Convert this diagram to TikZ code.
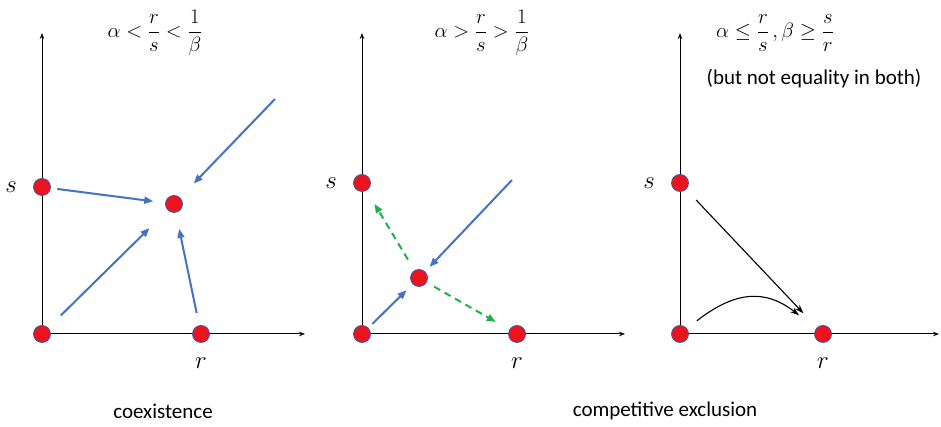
\documentclass[tikz,border=0pt]{standalone}
\usepackage{amsmath,amssymb}
\usepackage{fontspec}
\setmainfont{Carlito}
\usetikzlibrary{arrows.meta,positioning}
\definecolor{FlowBlue}{RGB}{68,114,196}
\definecolor{FlowGreen}{RGB}{30,178,72}
\definecolor{DotRed}{RGB}{235,20,30}
\definecolor{DotEdge}{RGB}{70,84,160}
\begin{document}
\begin{tikzpicture}[x=1pt,y=1pt,
  axis/.style={line width=1pt,-{Stealth[length=6pt,width=4.5pt]}},
  eq/.style={circle,fill=DotRed,draw=DotEdge,line width=0.8pt,minimum size=17pt,inner sep=0pt},
  flow/.style={draw=FlowBlue,line width=2pt,-{Triangle[length=9pt,width=7pt]}},
  unstable/.style={draw=FlowGreen,line width=2pt,dash pattern=on 7pt off 5pt,-{Triangle[length=9pt,width=7pt]}},
  excl/.style={draw=black,line width=1.1pt,-{Stealth[length=9pt,width=6pt]}},
  var/.style={font=\fontsize{24}{28}\selectfont},
  cond/.style={font=\fontsize{22}{26}\selectfont},
  caption/.style={font=\fontsize{21}{25}\selectfont}]
  \useasboundingbox (0,0) rectangle (941,427);
  % axes with the fixed points on them
  \foreach \p/\ox/\xe/\sy/\rx in {1/42/305/240/201,2/362/625/244/517,3/680/939/244/823}{
    \draw[axis] (\ox,93) -- (\ox,394);
    \draw[axis] (\ox,93) -- (\xe,93);
    \node[eq] (o\p) at (\ox,93) {};
    \node[eq] (s\p) at (\ox,\sy) {};
    \node[eq] (r\p) at (\rx,93) {};
    \node[var] at (\ox-31,\sy) {$s$};
    \node[var] at (\rx,64) {$r$};}
  % interior fixed points
  \node[eq] (e1) at (174,223) {};
  \node[eq] (e2) at (419,149) {};
  \coordinate (c1) at (275,328);
  \coordinate (c2) at (512,247);
  % coexistence
  \draw[flow,shorten <=6.5pt,shorten >=12pt] (s1) -- (e1);
  \draw[flow,shorten <=17.5pt,shorten >=25.5pt] (o1) -- (e1);
  \draw[flow,shorten <=12.5pt,shorten >=16.5pt] (r1) -- (e1);
  \draw[flow,shorten >=19.5pt] (c1) -- (e1);
  % saddle
  \draw[flow,shorten <=5.5pt,shorten >=8.5pt] (o2) -- (e2);
  \draw[flow,shorten >=6.5pt] (c2) -- (e2);
  \draw[unstable,shorten <=12.5pt,shorten >=15.5pt] (e2) -- (s2);
  \draw[unstable,shorten <=8.5pt,shorten >=15.5pt] (e2) -- (r2);
  % exclusion
  \draw[excl,shorten <=14.5pt,shorten >=19.5pt] (s3) -- (r3);
  \draw[excl,shorten <=12.5pt,shorten >=21.5pt] (o3) to[bend left=38,looseness=1.25] (r3);
  % conditions and captions
  \node[cond] (t1) at (155,394) {$\alpha < \dfrac{r}{s} < \dfrac{1}{\beta}$};
  \node[cond] (t2) at (482,394) {$\alpha > \dfrac{r}{s} > \dfrac{1}{\beta}$};
  \node[cond] (t3) at (775,394) {$\alpha \le \dfrac{r}{s}\,,\beta \ge \dfrac{s}{r}$};
  \node[caption] (n3) at (814,348) {(but not equality in both)};
  \node[caption] (k1) at (163,16) {coexistence};
  \node[caption] (k2) at (665,16) {competitive exclusion};
\end{tikzpicture}
\end{document}
